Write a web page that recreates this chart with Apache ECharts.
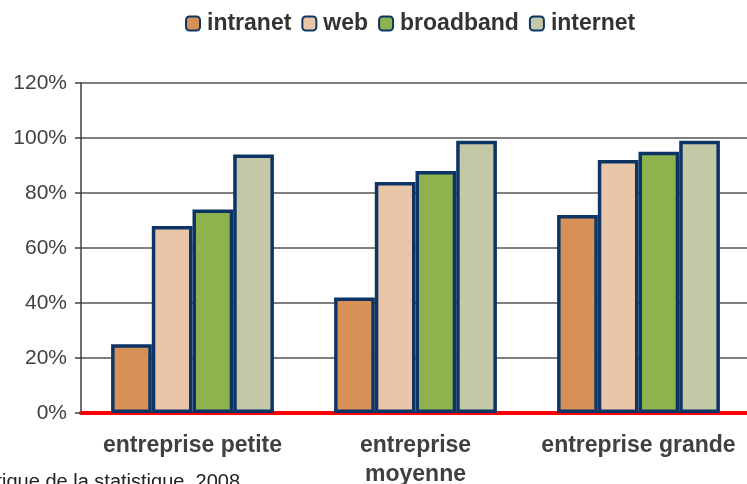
<!DOCTYPE html>
<html>
<head>
  <meta charset="UTF-8">
  <title>entreprises</title>
  <script src="https://cdn.jsdelivr.net/npm/echarts@6/dist/echarts.min.js"></script>
</head>
<body style="margin:0">
  <div id="chart" style="width: 747px; height: 484px"></div>
  <script>
    // données (en %)
    const categories = ['entreprise petite', 'entreprise moyenne', 'entreprise grande'];
    const intranet = [25, 42, 72];
    const web = [68, 84, 92];
    const broadband = [74, 88, 95];
    const internet = [94, 99, 99];
    const yTicks = [0, 20, 40, 60, 80, 100, 120];

    const navy = '#0c3566';
    const serie = (name, data, color) => ({
      name: name,
      type: 'bar',
      data: data,
      barGap: '0%',
      barCategoryGap: '27%',
      itemStyle: { color: color, borderColor: navy, borderWidth: 3.5 }
    });

    const chart = echarts.init(document.getElementById('chart'));
    chart.setOption({
      animation: false,
      legend: {
        top: 12,
        left: 185,
        padding: 0,
        itemWidth: 14,
        itemHeight: 14,
        itemGap: 10,
        textStyle: { fontFamily: 'Liberation Sans', fontWeight: 'bold', fontSize: 23, color: '#333', padding: [0, 0, 0, 2] }
      },
      grid: { left: 81, top: 83, bottom: 71, width: 669, outerBoundsMode: 'none' },
      xAxis: {
        type: 'category',
        data: categories,
        axisLine: { lineStyle: { color: '#ff0000', width: 4 } },
        axisTick: { show: false },
        axisLabel: {
          interval: 0,
          margin: 18,
          fontFamily: 'Liberation Sans',
          fontWeight: 'bold',
          fontSize: 23,
          lineHeight: 29,
          color: '#404040',
          formatter: v => v === 'entreprise moyenne' ? 'entreprise\nmoyenne' : v
        }
      },
      yAxis: {
        type: 'value',
        min: yTicks[0],
        max: yTicks[yTicks.length - 1],
        interval: 20,
        axisLine: { show: true, lineStyle: { color: '#404040', width: 1.5 } },
        axisTick: { show: true, length: 6, lineStyle: { color: '#404040', width: 1.5 } },
        splitLine: { lineStyle: { color: '#555', width: 1.5 } },
        axisLabel: {
          margin: 14,
          fontFamily: 'Liberation Sans',
          fontSize: 21,
          color: '#404040',
          formatter: '{value}%'
        }
      },
      graphic: [{
        type: 'text',
        right: 507,
        top: 472,
        style: {
          text: 'Source : Bureau informatique de la statistique, 2008',
          fontFamily: 'Liberation Sans',
          fontSize: 20,
          fill: '#222'
        }
      }],
      series: [
        serie('intranet', intranet, '#d79157'),
        serie('web', web, '#eac6a8'),
        serie('broadband', broadband, '#8db24e'),
        serie('internet', internet, '#c4c8a6')
      ]
    });
  </script>
</body>
</html>
